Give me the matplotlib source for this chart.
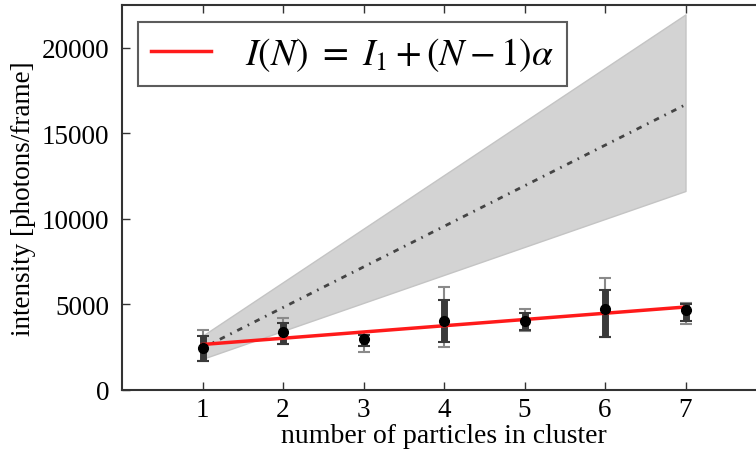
import matplotlib
matplotlib.use("Agg")
import matplotlib.pyplot as plt
import numpy as np

plt.rcParams['font.family'] = ['Liberation Serif', 'DejaVu Serif']
plt.rcParams['mathtext.fontset'] = 'stix'

N = [1, 2, 3, 4, 5, 6, 7]
intensity = [2450, 3380, 2990, 4030, 4030, 4710, 4650]
dark_lo = [1720, 2700, 2560, 2800, 3480, 3090, 4060]
dark_hi = [3130, 3930, 3230, 5240, 4520, 5830, 5040]
light_lo = [1700, 2660, 2250, 2500, 3420, 3090, 3870]
light_hi = [3520, 4220, 3400, 6020, 4750, 6570, 5080]

fit_I1 = 2660
fit_alpha = 365

model_N = [1, 7]
model_mid = [2450, 16675]
model_lo = [1820, 11630]
model_hi = [3170, 21950]

fig = plt.figure(figsize=(7.56, 4.52), dpi=100)
ax = fig.add_axes([122/756, 1-391/452, 644/756, 385/452])

ax.fill_between(model_N, model_lo, model_hi, color='#d3d3d3', edgecolor='#c4c4c4', lw=1, zorder=1)
ax.plot(model_N, model_mid, color='#444444', lw=2, zorder=2, dashes=(2, 2.2, 0.6, 2.2))

inten = np.array(intensity)
ax.errorbar(N, intensity,
            yerr=[inten - np.array(light_lo), np.array(light_hi) - inten],
            fmt='none', ecolor='#8a8a8a', elinewidth=1.5, capsize=4, capthick=1.5, zorder=3)
ax.errorbar(N, intensity,
            yerr=[inten - np.array(dark_lo), np.array(dark_hi) - inten],
            fmt='none', ecolor='#3a3a3a', elinewidth=5, capsize=4, capthick=1.5, zorder=4)

fitx = np.array([1, 7])
ax.plot(fitx, fit_I1 + (fitx - 1) * fit_alpha, color='#ff1a1a', lw=2.5, zorder=5,
        label=r'$I(N)\ =\ I_1+(N-1)\alpha$')
ax.plot(N, intensity, 'o', color='black', ms=7, zorder=6)

ax.set_xlim(0, 8)
ax.set_ylim(0, 22500)
ax.set_xticks(N)
ax.set_yticks([0, 5000, 10000, 15000, 20000])
ax.tick_params(direction='in', top=True, right=True, labelsize=19.5, length=6, width=1, color='#333333')
ax.tick_params(axis='x', pad=5)
ax.tick_params(axis='y', pad=9)
for s in ax.spines.values():
    s.set_color('#333333')
    s.set_linewidth(1.5)

ax.set_xlabel('number of particles in cluster', fontsize=20, labelpad=1)
ax.set_ylabel('intensity [photons/frame]', fontsize=19.5, labelpad=4)

leg = ax.legend(loc='upper left', bbox_to_anchor=(16/644, 1-17/385), borderaxespad=0,
                fontsize=27, frameon=True, fancybox=False, edgecolor='#333333',
                handlelength=1.6, borderpad=0.35, handletextpad=0.9)
leg.get_frame().set_linewidth(1.5)

fig.savefig('out.png', dpi=100)
